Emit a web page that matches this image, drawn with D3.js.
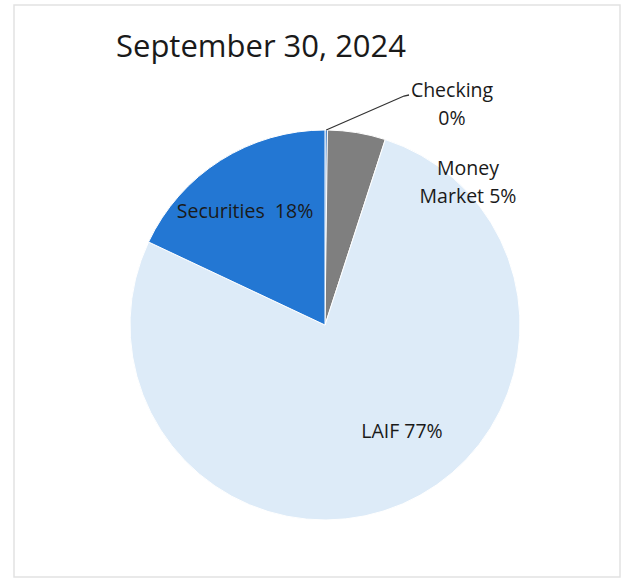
<!DOCTYPE html>
<html>
<head>
<meta charset="utf-8">
<script src="https://cdn.jsdelivr.net/npm/d3@7"></script>
<style>
  body { margin: 0; background: #fff; }
  text { font-family: "Open Sans", sans-serif; fill: #1a1a1a; }
</style>
</head>
<body>
<svg id="chart" width="623" height="579"></svg>
<script>
// slices, clockwise from 12 o'clock
var categories = ['Checking', 'Money Market', 'LAIF', 'Securities'];
var values = [0.2, 4.8, 77.0, 18.0];
var labelLines = [['Checking', '0%'], ['Money', 'Market 5%'], ['LAIF 77%'], ['Securities  18%']];
var colors = ['#2a6fc0', '#7f7f7f', '#ddebf8', '#2377d3'];

var svg = d3.select('#chart');

// faint scanned frame
svg.append('rect')
    .attr('x', 14).attr('y', 5)
    .attr('width', 606).attr('height', 572)
    .attr('fill', 'none')
    .style('stroke', '#e2e2e2')
    .style('stroke-width', 1.5);

svg.append('text')
    .attr('x', 116).attr('y', 57)
    .style('font-size', '31px')
    .text('September 30, 2024');

var cx = 325, cy = 325, r = 195;

var pie = d3.pie().sort(null).value(function(d){ return d; });
var arcs = pie(values);
var arc = d3.arc().innerRadius(0).outerRadius(r);

var g = svg.append('g').attr('transform', 'translate(' + cx + ',' + cy + ')');

g.selectAll('path.slice')
    .data(arcs)
    .enter().append('path')
    .attr('class', 'slice')
    .attr('d', arc)
    .attr('fill', function(d, i){ return colors[i]; })
    .style('stroke', '#ffffff')
    .style('stroke-width', 1);

// label positions (relative to pie centre), baseline of first line
var labelPos = [[127, -228], [143, -150], [77, 113], [-80, -107]];

// leader line for Checking
var a0 = (arcs[0].startAngle + arcs[0].endAngle) / 2;
var ex = Math.sin(a0) * r, ey = -Math.cos(a0) * r;
g.append('polyline')
    .attr('points', [[ex, ey], [79, -229], [84, -230]].map(function(p){ return p.join(','); }).join(' '))
    .attr('fill', 'none')
    .style('stroke', '#333')
    .style('stroke-width', 1.3);

arcs.forEach(function(d, i){
    var t = g.append('text')
        .attr('text-anchor', 'middle')
        .attr('x', labelPos[i][0])
        .attr('y', labelPos[i][1])
        .style('font-size', '19.5px');
    labelLines[i].forEach(function(line, j){
        t.append('tspan')
            .attr('x', labelPos[i][0])
            .attr('dy', j === 0 ? 0 : 28)
            .style('white-space', 'pre')
            .text(line);
    });
});
</script>
</body>
</html>
